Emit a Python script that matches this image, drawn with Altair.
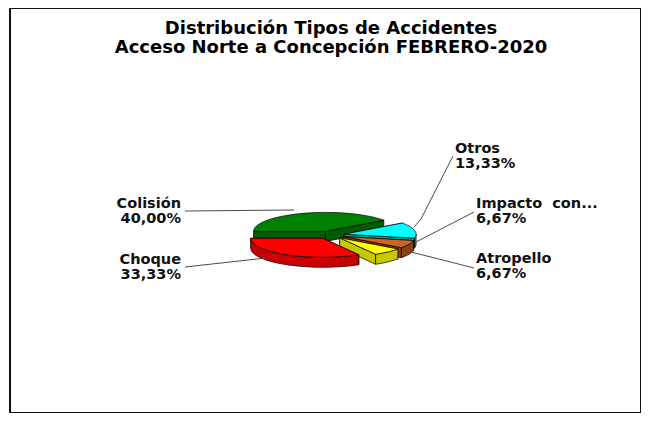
import math
import altair as alt
import pandas as pd

# ---------------- data ----------------
categories = ["Colisión", "Otros", "Impacto \u00a0con...", "Atropello", "Choque"]
percent = [40.00, 13.33, 6.67, 6.67, 33.33]
pct_labels = ["40,00%", "13,33%", "6,67%", "6,67%", "33,33%"]
title_lines = ["Distribución Tipos de Accidentes",
               "Acceso Norte a Concepción FEBRERO-2020"]

# ---------------- style / layout ----------------
top_colors = ["#008000", "#00FFFF", "#CC6622", "#FFFF00", "#FF0000"]
side_colors = ["#005C00", "#00A8A8", "#8A4010", "#C8C800", "#C80000"]
label_side = ["left", "right", "right", "right", "left"]
label_xy = [(181, 208), (455, 153), (476, 208), (476, 263), (181, 264)]
leaders = [
    [(185, 211), (294, 210)],
    [(453, 156), (421, 219), (414, 227)],
    [(474, 212), (416, 242)],
    [(474, 268), (411, 252)],
    [(185, 267), (266, 258)],
]

W, H = 631, 405          # plot area (fits the 633x405 space inside the page margin)
X0, Y0 = 10, 8           # page offset of plot area
CX0, CY0 = 330, 235      # pie centre (page px)
A, B, DEPTH = 72, 19, 10  # ellipse semi-axes, thickness
EXPLODE = 0.2
START = 270.0


def P(cx, cy, th, dz=0.0):
    r = math.radians(th)
    return [cx + A * math.sin(r) - X0, cy - B * math.cos(r) + dz - Y0]


def arc(cx, cy, t0, t1, dz=0.0, n=None):
    if n is None:
        n = max(2, int(abs(t1 - t0) / 2) + 1)
    return [P(cx, cy, t0 + (t1 - t0) * k / (n - 1), dz) for k in range(n)]


# slice angles from values
total = sum(percent)
slices = []
acc = START
for i, v in enumerate(percent):
    span = 360.0 * v / total
    s, e = acc, acc + span
    m = (s + e) / 2
    rm = math.radians(m)
    cx = CX0 + EXPLODE * A * math.sin(rm)
    cy = CY0 - EXPLODE * B * math.cos(rm)
    slices.append(dict(i=i, s=s, e=e, cx=cx, cy=cy))
    acc = e

features = []


def add(ring, color):
    ring = ring + [ring[0]]
    features.append({"type": "Feature",
                     "properties": {"fill": color},
                     "geometry": {"type": "Polygon", "coordinates": [ring]}})


for sl in sorted(slices, key=lambda d: d["cy"]):
    i, s, e, cx, cy = sl["i"], sl["s"], sl["e"], sl["cx"], sl["cy"]
    apex_t = [cx - X0, cy - Y0]
    apex_b = [cx - X0, cy - Y0 + DEPTH]
    # radial faces
    for th in (s, e):
        add([apex_t, P(cx, cy, th), P(cx, cy, th, DEPTH), apex_b], side_colors[i])
    # outer (front) wall: angles within [90, 270] (mod 360)
    for off in (0, 360, -360):
        t0 = max(s, 90 + off)
        t1 = min(e, 270 + off)
        if t1 - t0 > 0.5:
            top = arc(cx, cy, t0, t1)
            bot = arc(cx, cy, t1, t0, DEPTH)
            add(top + bot, side_colors[i])
    # top face
    add([apex_t] + arc(cx, cy, s, e), top_colors[i])

pie = alt.Chart(
    alt.InlineData(values={"type": "FeatureCollection", "features": features},
                   format=alt.DataFormat(property="features", type="json"))
).mark_geoshape(stroke="#000000", strokeWidth=0.7).encode(
    fill=alt.Fill("properties.fill:N", scale=None)
).project(type="identity", scale=1, translate=[0, 0])

xs = alt.Scale(domain=[0, W], range=[0, W])
ys = alt.Scale(domain=[0, H], range=[0, H])

# leader lines
lrows = []
for k, pts in enumerate(leaders):
    for j, (px, py) in enumerate(pts):
        lrows.append({"id": k, "o": j, "x": px - X0, "y": py - Y0})
lines = alt.Chart(pd.DataFrame(lrows)).mark_line(
    color="#4a4a4a", strokeWidth=1
).encode(
    x=alt.X("x:Q", scale=xs, axis=None),
    y=alt.Y("y:Q", scale=ys, axis=None),
    detail="id:N",
    order="o:Q",
)

# labels
trows = []
for i in range(len(categories)):
    lx, ly = label_xy[i]
    trows.append({"t": categories[i], "x": lx - X0, "y": ly - Y0, "side": label_side[i]})
    trows.append({"t": pct_labels[i], "x": lx - X0, "y": ly + 15 - Y0, "side": label_side[i]})
tdf = pd.DataFrame(trows)


def text_layer(df, align):
    return alt.Chart(df).mark_text(
        align=align, baseline="alphabetic", font="DejaVu Sans",
        fontSize=14.5, fontWeight="bold", color="#111111"
    ).encode(
        x=alt.X("x:Q", scale=xs, axis=None),
        y=alt.Y("y:Q", scale=ys, axis=None),
        text="t:N",
    )


left_txt = text_layer(tdf[tdf.side == "left"], "right")
right_txt = text_layer(tdf[tdf.side == "right"], "left")

title_df = pd.DataFrame({"t": title_lines,
                         "x": [331 - X0, 331 - X0],
                         "y": [34 - Y0, 53 - Y0]})
title = alt.Chart(title_df).mark_text(
    align="center", baseline="alphabetic", font="DejaVu Sans",
    fontSize=18, fontWeight="bold", color="#000000"
).encode(
    x=alt.X("x:Q", scale=xs, axis=None),
    y=alt.Y("y:Q", scale=ys, axis=None),
    text="t:N",
)

chart = alt.layer(pie, lines, left_txt, right_txt, title).properties(
    width=W, height=H,
    autosize=alt.AutoSizeParams(type="none"),
    padding={"left": 2, "top": 0, "right": 0, "bottom": 0},
    background="#FFFFFF",
).configure_view(stroke="#111111", strokeWidth=2)

chart.save("out.html", embed_options={"renderer": "svg", "actions": False})
